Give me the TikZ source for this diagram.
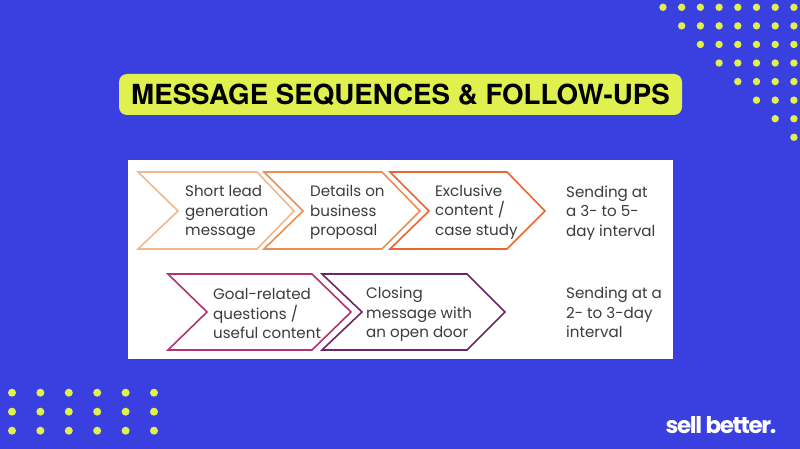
\documentclass[tikz,border=0pt]{standalone}
\usepackage{fontspec}
\setmainfont{Poppins}
\newfontfamily\titlefont{TeX Gyre Heros}
\newfontfamily\logofont[LetterSpace=-6]{Poppins}
\definecolor{bgblue}{HTML}{3A40E0}
\definecolor{lime}{HTML}{DFF04F}
\definecolor{peach}{HTML}{F3B78C}
\definecolor{tangerine}{HTML}{EE8D52}
\definecolor{burnt}{HTML}{E8662F}
\definecolor{berry}{HTML}{B5336F}
\definecolor{plum}{HTML}{6F2568}
\definecolor{bodygrey}{HTML}{3C3C3C}
\tikzset{
  chevron/.style={line width=1.6pt, line join=miter, fill=none},
  steptext/.style={anchor=west, align=left, text=bodygrey, inner sep=0pt,
    font=\fontsize{15.1}{19.5}\selectfont},
  dot/.style={fill=lime, draw=none}
}
\begin{document}
\begin{tikzpicture}[x=1pt, y=-1pt]
      \useasboundingbox (0, 0) rectangle (800, 449);
      \fill[bgblue] (0, 0) rectangle (800, 449);
      % dots
      \foreach \r in {0,...,7} {
        \foreach \c in {\r,...,7} {
          \fill[dot] ({663+18.7*\c}, {7.3+18.57*\r}) circle (3.7);
        }
      }
      \foreach \c in {0,...,5} {
        \foreach \r in {0,1,2} {
          \fill[dot] ({12+28.4*\c}, {392.7+19*\r}) circle (4);
        }
      }
      % title
      \node[fill=lime, rounded corners=8pt, minimum width=563pt, minimum height=41pt, inner sep=0pt,
        font=\titlefont\bfseries\fontsize{27.7}{30}\selectfont, text=black] (title) at (400.5, 94.5)
        {MESSAGE SEQUENCES \& FOLLOW-UPS};
      % panel
      \fill[white] (128, 160) rectangle (673, 359);
      % first row
      \draw[chevron, peach] (138, 172) -- (257, 172) -- (294, 211) -- (257, 249) -- (138, 249) -- (178, 211) -- cycle;
      \draw[chevron, tangerine] (264, 172) -- (382, 172) -- (420, 211) -- (382, 249) -- (264, 249) -- (303, 211) -- cycle;
      \draw[chevron, burnt] (390, 172) -- (507, 172) -- (545, 211) -- (507, 249) -- (390, 249) -- (429, 211) -- cycle;
      % second row
      \draw[chevron, berry] (168, 274) -- (312, 274) -- (351, 312) -- (312, 350) -- (168, 350) -- (207, 312) -- cycle;
      \draw[chevron, plum] (322, 274) -- (467, 274) -- (505, 312) -- (467, 350) -- (322, 350) -- (362, 312) -- cycle;
      % labels
      \node[steptext] (lead) at (185, 212.5) {Short lead\\generation\\message};
      \node[steptext] (details) at (310, 212.5) {Details on\\business\\proposal};
      \node[steptext] (exclusive) at (435, 212) {Exclusive\\content /\\case study};
      \node[steptext] (slow) at (566, 213) {Sending at\\a 3- to 5-\\day interval};
      \node[steptext] (goal) at (213, 313.5) {Goal-related\\questions /\\useful content};
      \node[steptext] (closing) at (366, 314.5) {Closing\\message with\\an open door};
      \node[steptext] (fast) at (566, 312.5) {Sending at a\\2- to 3-day\\interval};
      % logo
      \node[text=white, inner sep=0pt, font=\logofont\bfseries\fontsize{23}{23}\selectfont] (logo) at (721, 425) {sell better.};
    \end{tikzpicture}
\end{document}
